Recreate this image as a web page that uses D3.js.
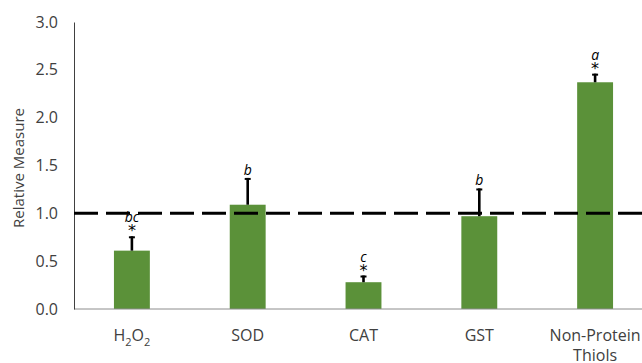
<!DOCTYPE html>
<html>
<head>
<meta charset="utf-8">
<script src="https://cdn.jsdelivr.net/npm/d3@7"></script>
<style>
  html, body { margin: 0; padding: 0; background: #fff; }
  svg { display: block; }
  text { font-family: "Open Sans", "Noto Sans", sans-serif; }
</style>
</head>
<body>
<script>
// Relative antioxidant measures (treatment / control)
const categories = ["H2O2", "SOD", "CAT", "GST", "Non-Protein Thiols"];
const means = [0.61, 1.09, 0.28, 0.97, 2.37];
const errors = [0.15, 0.28, 0.07, 0.29, 0.09];
const letters = ["bc", "b", "c", "b", "a"];
const significant = [true, false, true, false, true];
const yTicks = [0, 0.5, 1.0, 1.5, 2.0, 2.5, 3.0];
const controlLevel = 1.0;

const W = 642, H = 363;
const svg = d3.select("body").append("svg").attr("width", W).attr("height", H);

const x0 = 74, step = 115.8;
const x = d3.scaleBand()
  .domain(categories)
  .range([x0, x0 + step * categories.length])
  .paddingInner(0.69)
  .paddingOuter(0.345);
const y = d3.scaleLinear().domain([0, 3]).range([309, 22]);

const data = categories.map((c, i) => ({
  cat: c, mean: means[i], err: errors[i], letter: letters[i], sig: significant[i]
}));

// bars
svg.append("g").selectAll("rect").data(data).join("rect")
  .attr("x", d => x(d.cat))
  .attr("y", d => y(d.mean))
  .attr("width", x.bandwidth())
  .attr("height", d => y(0) - y(d.mean))
  .attr("fill", "#5b9139");

// x baseline
svg.append("line")
  .attr("x1", x0).attr("x2", W)
  .attr("y1", y(0)).attr("y2", y(0))
  .attr("stroke", "#8c8c8c").attr("stroke-width", 1);

// y axis
const yAxis = svg.append("g")
  .attr("transform", `translate(${x0},0)`)
  .call(d3.axisLeft(y).tickValues(yTicks).tickFormat(d3.format(".1f")).tickSize(0).tickPadding(16));
yAxis.select(".domain").attr("stroke", "#404040").attr("stroke-width", 1);
yAxis.selectAll(".tick text")
  .attr("fill", "#404040")
  .style("font-size", "16px")
  .style("font-family", "'Open Sans', sans-serif");

// control reference line
svg.append("line")
  .attr("x1", x0).attr("x2", W)
  .attr("y1", y(controlLevel)).attr("y2", y(controlLevel))
  .attr("stroke", "#000").attr("stroke-width", 3)
  .attr("stroke-dasharray", "24,8");

// error bars (upper only)
const eb = svg.append("g").selectAll("g").data(data).join("g")
  .attr("transform", d => `translate(${x(d.cat) + x.bandwidth() / 2},0)`);
eb.append("line")
  .attr("y1", d => y(d.mean)).attr("y2", d => y(d.mean + d.err))
  .attr("stroke", "#000").attr("stroke-width", 2.6);
eb.append("line")
  .attr("x1", -3).attr("x2", 3)
  .attr("y1", d => y(d.mean + d.err) + 1).attr("y2", d => y(d.mean + d.err) + 1)
  .attr("stroke", "#000").attr("stroke-width", 2);

// significance asterisks
eb.filter(d => d.sig).append("text")
  .attr("y", d => y(d.mean + d.err))
  .attr("text-anchor", "middle")
  .style("font-size", "16px")
  .style("font-family", "'DejaVu Sans', sans-serif")
  .attr("fill", "#000")
  .text("*");

// group letters
eb.append("text")
  .attr("y", d => y(d.mean + d.err) - (d.sig ? 14 : 3))
  .attr("text-anchor", "middle")
  .style("font-size", "14px")
  .style("font-style", "italic")
  .attr("fill", "#000")
  .text(d => d.letter);

// category labels
const labelG = svg.append("g").selectAll("text").data(data).join("text")
  .attr("x", d => x(d.cat) + x.bandwidth() / 2)
  .attr("y", 341)
  .attr("text-anchor", "middle")
  .attr("fill", "#404040")
  .style("font-size", "16px");
labelG.each(function(d) {
  const t = d3.select(this);
  if (d.cat === "H2O2") {
    t.append("tspan").text("H");
    t.append("tspan").attr("dy", 5).style("font-size", "11px").text("2");
    t.append("tspan").attr("dy", -5).text("O");
    t.append("tspan").attr("dy", 5).style("font-size", "11px").text("2");
  } else if (d.cat === "Non-Protein Thiols") {
    t.append("tspan").attr("x", x(d.cat) + x.bandwidth() / 2).text("Non-Protein");
    t.append("tspan").attr("x", x(d.cat) + x.bandwidth() / 2).attr("dy", 20).text("Thiols");
  } else {
    t.text(d.cat);
  }
});

// y axis title
svg.append("text")
  .attr("transform", `translate(24,${168}) rotate(-90)`)
  .attr("text-anchor", "middle")
  .attr("fill", "#404040")
  .style("font-size", "15px")
  .text("Relative Measure");
</script>
</body>
</html>
